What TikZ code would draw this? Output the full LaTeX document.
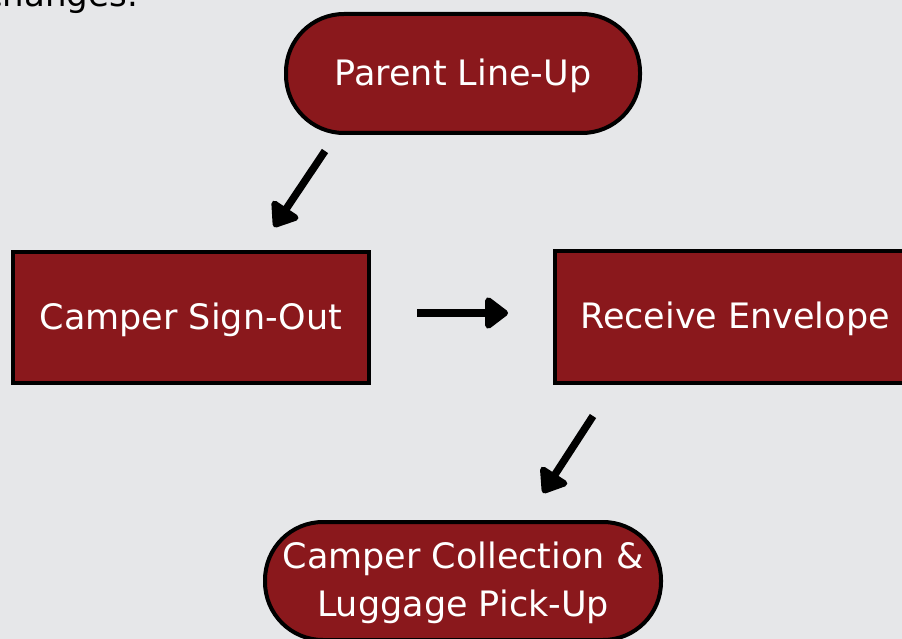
\documentclass[tikz,border=0pt]{standalone}
\usepackage{fontspec}
\setmainfont{DejaVu Sans}
\usetikzlibrary{arrows.meta}
\definecolor{bgc}{RGB}{230,231,233}
\definecolor{boxred}{RGB}{138,24,28}
\tikzset{
  stepbox/.style={draw=black, line width=4pt, fill=boxred, text=white,
    font=\fontsize{35}{48}\selectfont, align=center, inner sep=0pt, text depth=3pt},
  pill/.style={stepbox, rounded corners=58pt},
  flowarrow/.style={line width=7.5pt, -{Triangle[length=25pt,width=36pt,round]}},
}
\begin{document}
\begin{tikzpicture}[x=1pt,y=-1pt]
\useasboundingbox (0,0) rectangle (902,639);
\clip (0,0) rectangle (902,639);
\fill[bgc] (0,0) rectangle (902,639);
\node[anchor=base east, font=\fontsize{34}{40}\selectfont, inner sep=0pt] (prev) at (138,7) {changes.};
\node[pill, minimum width=354pt, minimum height=119pt] (lineup) at (463,73.5) {Parent Line-Up};
\node[stepbox, minimum width=356pt, minimum height=131pt] (signout) at (191,317.5) {Camper Sign-Out};
\node[stepbox, minimum width=360pt, minimum height=132pt] (envelope) at (735,317) {Receive Envelope};
\node[pill, minimum width=396pt, minimum height=118pt] (collect) at (463,581) {Camper Collection \&\\Luggage Pick-Up};
\coordinate (a1s) at (325,151);
\coordinate (a1e) at (274,227);
\coordinate (a2s) at (417,313);
\coordinate (a2e) at (508,313);
\coordinate (a3s) at (593,416);
\coordinate (a3e) at (543,493);
\draw[flowarrow] (a1s) -- (a1e);
\draw[flowarrow] (a2s) -- (a2e);
\draw[flowarrow] (a3s) -- (a3e);
\end{tikzpicture}
\end{document}
